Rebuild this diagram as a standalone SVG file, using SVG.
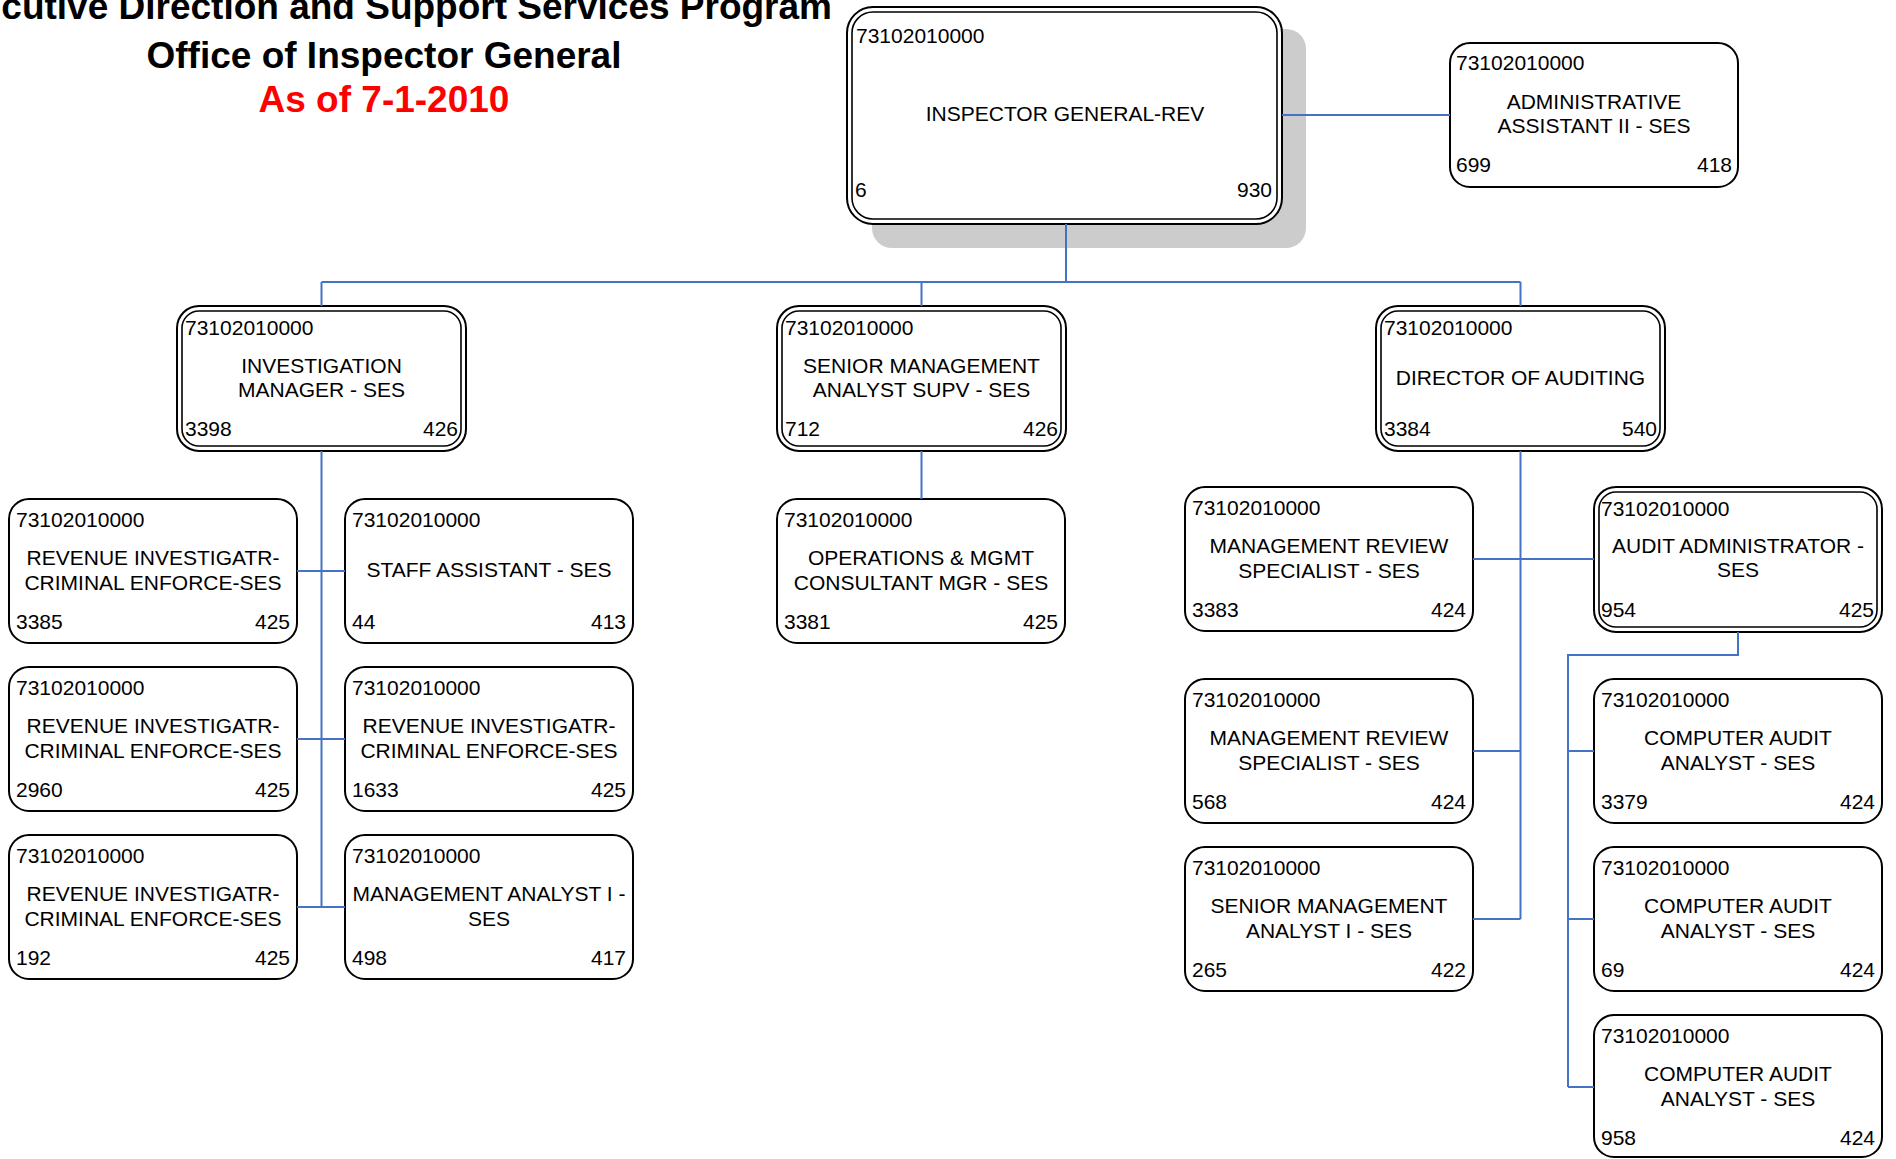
<svg xmlns="http://www.w3.org/2000/svg" width="1896" height="1159" viewBox="0 0 1896 1159">
  <style>
    .frame { fill: #ffffff; stroke: #000000; stroke-width: 2; }
    .inner { fill: none; stroke: #000000; stroke-width: 1.6; }
    .shadow { fill: #cccccc; stroke: none; }
    .t { font-family: "Liberation Sans", Arial, sans-serif; font-size: 21px; fill: #000000; }
    .mid { text-anchor: middle; }
    .end { text-anchor: end; }
    .head { font-family: "Liberation Sans", Arial, sans-serif; font-size: 37px; font-weight: bold; fill: #000000; }
    .date { fill: #ff0000; }
    .conn path { fill: none; stroke: #4472c4; stroke-width: 2; }
  </style>

  <rect width="1896" height="1159" fill="#ffffff"/>

  <!-- heading -->
  <g id="heading">
    <text class="head end" x="832" y="19">cutive Direction and Support Services Program</text>
    <text class="head mid" x="384" y="68">Office of Inspector General</text>
    <text class="head mid date" x="384" y="112">As of 7-1-2010</text>
  </g>

  <!-- top position -->
  <g id="inspector-general" transform="translate(847,7)">
    <rect class="shadow" x="25" y="22" width="434" height="219" rx="20"/>
    <rect class="frame" x="0" y="0" width="435" height="217" rx="26"/>
    <rect class="inner" x="5" y="5" width="425" height="207" rx="21"/>
    <text class="t" x="9" y="36">73102010000</text>
    <text class="t mid" x="218" y="114">INSPECTOR GENERAL-REV</text>
    <text class="t" x="8" y="190">6</text>
    <text class="t end" x="425" y="190">930</text>
  </g>

  <g id="admin-assistant" transform="translate(1450,43)">
    <rect class="frame" width="288" height="144" rx="20"/>
    <text class="t" x="6" y="27">73102010000</text>
    <text class="t mid" x="144" y="66">ADMINISTRATIVE</text>
    <text class="t mid" x="144" y="90">ASSISTANT II - SES</text>
    <text class="t" x="6" y="129">699</text>
    <text class="t end" x="282" y="129">418</text>
  </g>

  <!-- second level -->
  <g id="investigation-manager" transform="translate(177,306)">
    <rect class="frame" width="289" height="145" rx="22"/>
    <rect class="inner" x="5" y="5" width="279" height="135" rx="17"/>
    <text class="t" x="8" y="29">73102010000</text>
    <text class="t mid" x="144.5" y="67">INVESTIGATION</text>
    <text class="t mid" x="144.5" y="91">MANAGER - SES</text>
    <text class="t" x="8" y="130">3398</text>
    <text class="t end" x="281" y="130">426</text>
  </g>

  <g id="senior-mgmt-analyst-supv" transform="translate(777,306)">
    <rect class="frame" width="289" height="145" rx="22"/>
    <rect class="inner" x="5" y="5" width="279" height="135" rx="17"/>
    <text class="t" x="8" y="29">73102010000</text>
    <text class="t mid" x="144.5" y="67">SENIOR MANAGEMENT</text>
    <text class="t mid" x="144.5" y="91">ANALYST SUPV - SES</text>
    <text class="t" x="8" y="130">712</text>
    <text class="t end" x="281" y="130">426</text>
  </g>

  <g id="director-of-auditing" transform="translate(1376,306)">
    <rect class="frame" width="289" height="145" rx="22"/>
    <rect class="inner" x="5" y="5" width="279" height="135" rx="17"/>
    <text class="t" x="8" y="29">73102010000</text>
    <text class="t mid" x="144.5" y="79">DIRECTOR OF AUDITING</text>
    <text class="t" x="8" y="130">3384</text>
    <text class="t end" x="281" y="130">540</text>
  </g>

  <!-- investigation staff -->
  <g id="rev-investigator-3385" transform="translate(9,499)">
    <rect class="frame" width="288" height="144" rx="20"/>
    <text class="t" x="7" y="28">73102010000</text>
    <text class="t mid" x="144" y="66">REVENUE INVESTIGATR-</text>
    <text class="t mid" x="144" y="91">CRIMINAL ENFORCE-SES</text>
    <text class="t" x="7" y="130">3385</text>
    <text class="t end" x="281" y="130">425</text>
  </g>

  <g id="staff-assistant-44" transform="translate(345,499)">
    <rect class="frame" width="288" height="144" rx="20"/>
    <text class="t" x="7" y="28">73102010000</text>
    <text class="t mid" x="144" y="78">STAFF ASSISTANT - SES</text>
    <text class="t" x="7" y="130">44</text>
    <text class="t end" x="281" y="130">413</text>
  </g>

  <g id="rev-investigator-2960" transform="translate(9,667)">
    <rect class="frame" width="288" height="144" rx="20"/>
    <text class="t" x="7" y="28">73102010000</text>
    <text class="t mid" x="144" y="66">REVENUE INVESTIGATR-</text>
    <text class="t mid" x="144" y="91">CRIMINAL ENFORCE-SES</text>
    <text class="t" x="7" y="130">2960</text>
    <text class="t end" x="281" y="130">425</text>
  </g>

  <g id="rev-investigator-1633" transform="translate(345,667)">
    <rect class="frame" width="288" height="144" rx="20"/>
    <text class="t" x="7" y="28">73102010000</text>
    <text class="t mid" x="144" y="66">REVENUE INVESTIGATR-</text>
    <text class="t mid" x="144" y="91">CRIMINAL ENFORCE-SES</text>
    <text class="t" x="7" y="130">1633</text>
    <text class="t end" x="281" y="130">425</text>
  </g>

  <g id="rev-investigator-192" transform="translate(9,835)">
    <rect class="frame" width="288" height="144" rx="20"/>
    <text class="t" x="7" y="28">73102010000</text>
    <text class="t mid" x="144" y="66">REVENUE INVESTIGATR-</text>
    <text class="t mid" x="144" y="91">CRIMINAL ENFORCE-SES</text>
    <text class="t" x="7" y="130">192</text>
    <text class="t end" x="281" y="130">425</text>
  </g>

  <g id="mgmt-analyst-498" transform="translate(345,835)">
    <rect class="frame" width="288" height="144" rx="20"/>
    <text class="t" x="7" y="28">73102010000</text>
    <text class="t mid" x="144" y="66">MANAGEMENT ANALYST I -</text>
    <text class="t mid" x="144" y="91">SES</text>
    <text class="t" x="7" y="130">498</text>
    <text class="t end" x="281" y="130">417</text>
  </g>

  <!-- operations -->
  <g id="operations-mgr-3381" transform="translate(777,499)">
    <rect class="frame" width="288" height="144" rx="20"/>
    <text class="t" x="7" y="28">73102010000</text>
    <text class="t mid" x="144" y="66">OPERATIONS &amp; MGMT</text>
    <text class="t mid" x="144" y="91">CONSULTANT MGR - SES</text>
    <text class="t" x="7" y="130">3381</text>
    <text class="t end" x="281" y="130">425</text>
  </g>

  <!-- auditing staff -->
  <g id="mgmt-review-3383" transform="translate(1185,487)">
    <rect class="frame" width="288" height="144" rx="20"/>
    <text class="t" x="7" y="28">73102010000</text>
    <text class="t mid" x="144" y="66">MANAGEMENT REVIEW</text>
    <text class="t mid" x="144" y="91">SPECIALIST - SES</text>
    <text class="t" x="7" y="130">3383</text>
    <text class="t end" x="281" y="130">424</text>
  </g>

  <g id="audit-administrator-954" transform="translate(1594,487)">
    <rect class="frame" width="288" height="145" rx="22"/>
    <rect class="inner" x="5" y="5" width="278" height="135" rx="17"/>
    <text class="t" x="7" y="29">73102010000</text>
    <text class="t mid" x="144" y="66">AUDIT ADMINISTRATOR -</text>
    <text class="t mid" x="144" y="90">SES</text>
    <text class="t" x="7" y="130">954</text>
    <text class="t end" x="280" y="130">425</text>
  </g>

  <g id="mgmt-review-568" transform="translate(1185,679)">
    <rect class="frame" width="288" height="144" rx="20"/>
    <text class="t" x="7" y="28">73102010000</text>
    <text class="t mid" x="144" y="66">MANAGEMENT REVIEW</text>
    <text class="t mid" x="144" y="91">SPECIALIST - SES</text>
    <text class="t" x="7" y="130">568</text>
    <text class="t end" x="281" y="130">424</text>
  </g>

  <g id="senior-mgmt-analyst-265" transform="translate(1185,847)">
    <rect class="frame" width="288" height="144" rx="20"/>
    <text class="t" x="7" y="28">73102010000</text>
    <text class="t mid" x="144" y="66">SENIOR MANAGEMENT</text>
    <text class="t mid" x="144" y="91">ANALYST I - SES</text>
    <text class="t" x="7" y="130">265</text>
    <text class="t end" x="281" y="130">422</text>
  </g>

  <g id="computer-audit-3379" transform="translate(1594,679)">
    <rect class="frame" width="288" height="144" rx="20"/>
    <text class="t" x="7" y="28">73102010000</text>
    <text class="t mid" x="144" y="66">COMPUTER AUDIT</text>
    <text class="t mid" x="144" y="91">ANALYST - SES</text>
    <text class="t" x="7" y="130">3379</text>
    <text class="t end" x="281" y="130">424</text>
  </g>

  <g id="computer-audit-69" transform="translate(1594,847)">
    <rect class="frame" width="288" height="144" rx="20"/>
    <text class="t" x="7" y="28">73102010000</text>
    <text class="t mid" x="144" y="66">COMPUTER AUDIT</text>
    <text class="t mid" x="144" y="91">ANALYST - SES</text>
    <text class="t" x="7" y="130">69</text>
    <text class="t end" x="281" y="130">424</text>
  </g>

  <g id="computer-audit-958" transform="translate(1594,1015)">
    <rect class="frame" width="288" height="142" rx="20"/>
    <text class="t" x="7" y="28">73102010000</text>
    <text class="t mid" x="144" y="66">COMPUTER AUDIT</text>
    <text class="t mid" x="144" y="91">ANALYST - SES</text>
    <text class="t" x="7" y="130">958</text>
    <text class="t end" x="281" y="130">424</text>
  </g>

  <!-- reporting lines, drawn last so they run over the drop shadow -->
  <g id="connectors" class="conn">
    <path d="M1282,115 H1450"/>
    <path d="M1066,224 V282"/>
    <path d="M321.5,282 H1520.5"/>
    <path d="M321.5,282 V306 M921.5,282 V306 M1520.5,282 V306"/>
    <!-- investigation branch -->
    <path d="M321.5,451 V907"/>
    <path d="M297,571 H345 M297,739 H345 M297,907 H345"/>
    <!-- senior management analyst branch -->
    <path d="M921.5,451 V499"/>
    <!-- auditing branch -->
    <path d="M1520.5,451 V919"/>
    <path d="M1473,559 H1594 M1473,751 H1520.5 M1473,919 H1520.5"/>
    <!-- audit administrator branch -->
    <path d="M1738,632 V655 H1568 V1087"/>
    <path d="M1568,751 H1594 M1568,919 H1594 M1568,1087 H1594"/>
  </g>
</svg>
